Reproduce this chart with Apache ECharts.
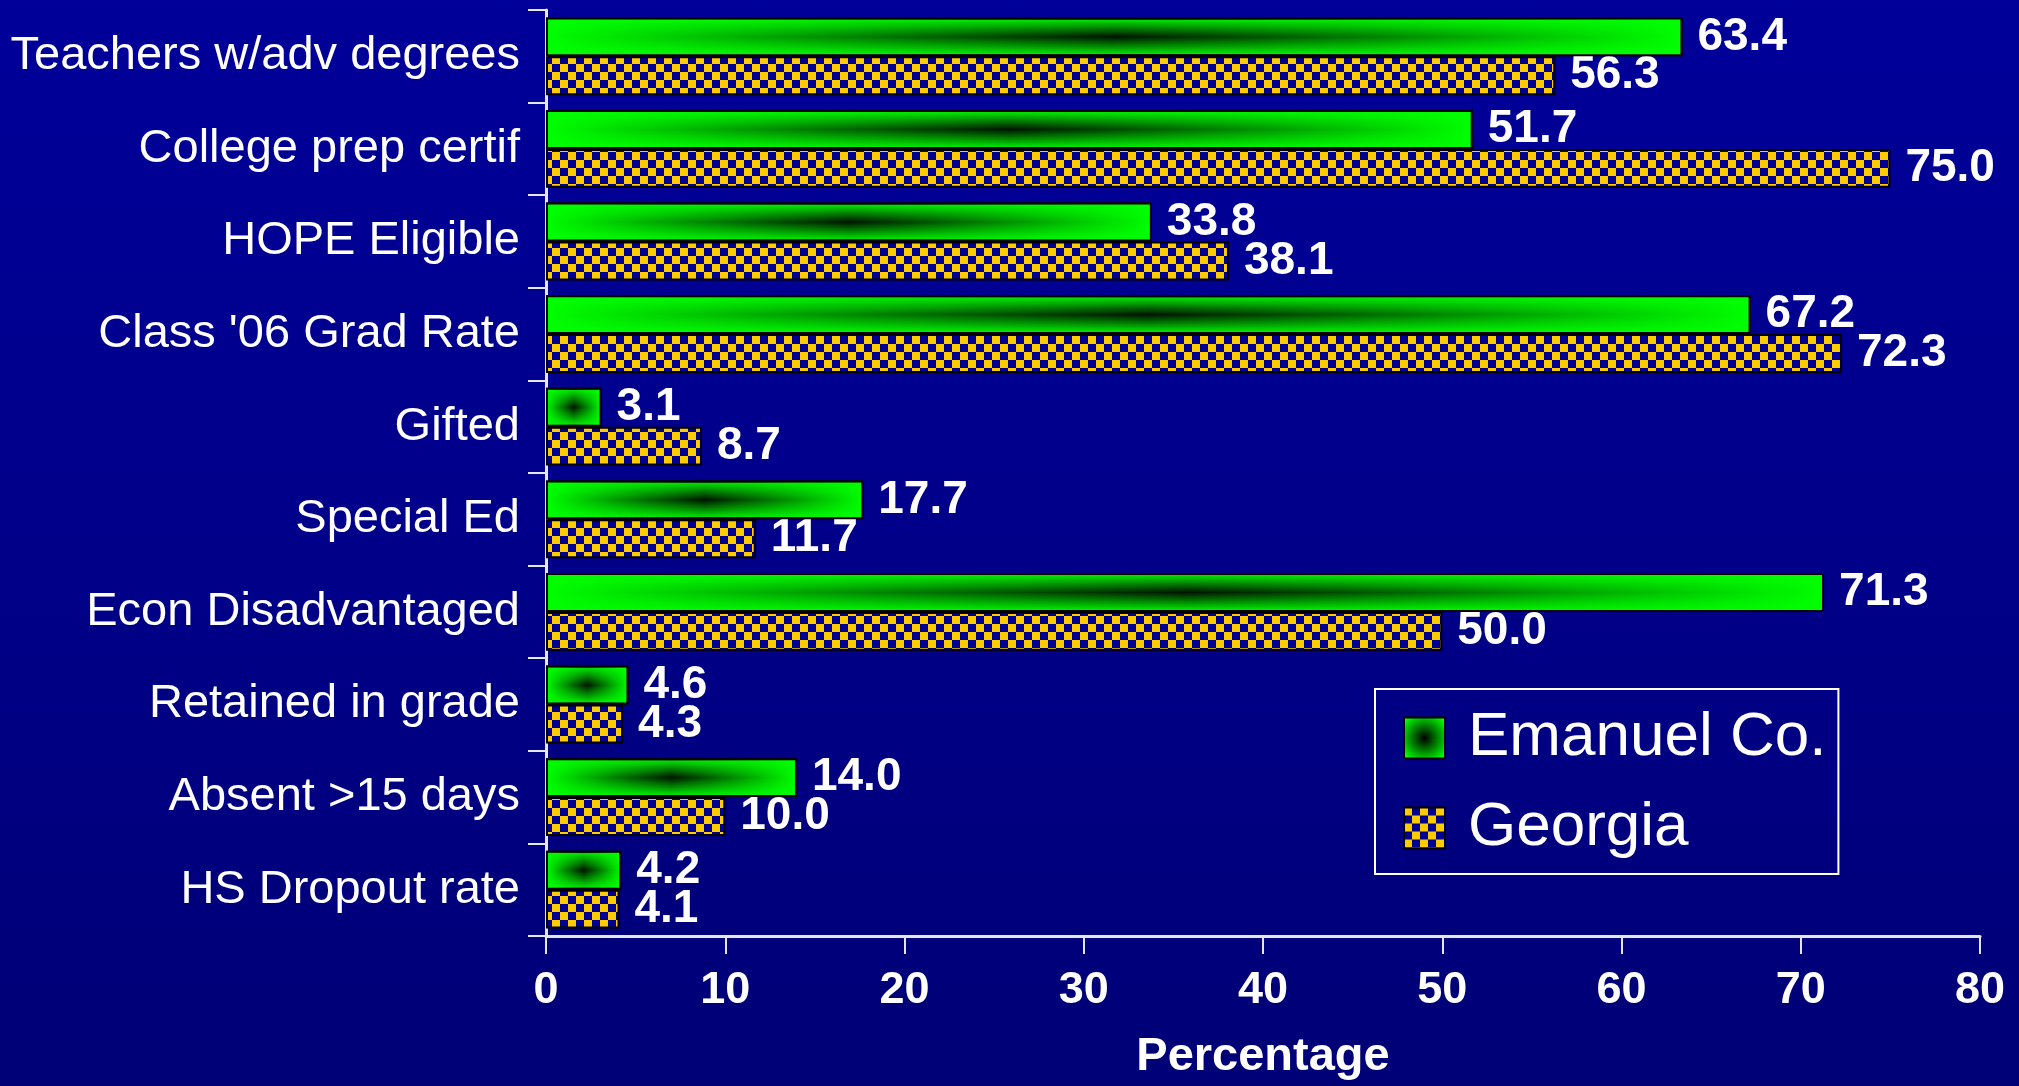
<!DOCTYPE html>
<html>
<head>
<meta charset="utf-8">
<script src="https://cdn.jsdelivr.net/npm/echarts@6/dist/echarts.min.js"></script>
<style>
  html, body { margin: 0; padding: 0; }
  #chart {
    width: 2019px;
    height: 1086px;
    background: linear-gradient(to bottom, #00009a 0%, #000088 55%, #000076 100%);
  }
</style>
</head>
<body>
<div id="chart"></div>
<script>
  // data
  const categories = ['Teachers w/adv degrees', 'College prep certif', 'HOPE Eligible', "Class '06 Grad Rate",
    'Gifted', 'Special Ed', 'Econ Disadvantaged', 'Retained in grade', 'Absent >15 days', 'HS Dropout rate']
  const emanuel = [63.4, 51.7, 33.8, 67.2, 3.1, 17.7, 71.3, 4.6, 14.0, 4.2]
  const georgia = [56.3, 75.0, 38.1, 72.3, 8.7, 11.7, 50.0, 4.3, 10.0, 4.1]
  const xMin = 0
  const xMax = 80
  const xStep = 10

  // checkerboard fill for the Georgia bars
  const checker = document.createElement('canvas')
  checker.width = 16
  checker.height = 16
  const ctx = checker.getContext('2d')
  ctx.fillStyle = '#000090'
  ctx.fillRect(0, 0, 16, 16)
  ctx.fillStyle = '#ffcc00'
  ctx.fillRect(0, 0, 8, 8)
  ctx.fillRect(8, 8, 8, 8)

  const G = echarts.graphic
  const greenV = new G.LinearGradient(0, 0, 0, 1, [
    { offset: 0, color: '#00ff00' },
    { offset: 0.5, color: '#001400' },
    { offset: 1, color: '#00ff00' }
  ])
  const greenH = new G.LinearGradient(0, 0, 1, 0, [
    { offset: 0, color: 'rgba(0,255,0,1)' },
    { offset: 0.5, color: 'rgba(0,255,0,0)' },
    { offset: 1, color: 'rgba(0,255,0,1)' }
  ])
  const greenR = new G.RadialGradient(0.5, 0.5, 0.6, [
    { offset: 0, color: '#000000' },
    { offset: 1, color: '#00ff00' }
  ])

  const labelStyle = {
    show: true,
    position: 'right',
    distance: 15,
    color: '#ffffff',
    fontFamily: 'Liberation Sans',
    fontWeight: 'bold',
    fontSize: 46,
    formatter: p => p.value.toFixed(1)
  }
  const border = { borderColor: '#000000', borderWidth: 2 }

  const chart = echarts.init(document.getElementById('chart'))
  const option = {
    backgroundColor: 'transparent',
    animation: false,
    grid: { left: 546, right: 39, top: 10, bottom: 146, containLabel: false },
    legend: {
      left: 1375,
      top: 689,
      orient: 'vertical',
      padding: [18, 12, 15, 28],
      borderColor: '#ffffff',
      borderWidth: 2,
      itemWidth: 41,
      itemHeight: 41,
      itemGap: 28,
      icon: 'rect',
      textStyle: { color: '#ffffff', fontFamily: 'Liberation Sans', fontSize: 62, padding: [0, 0, 0, 18] },
      data: [
        { name: 'Emanuel Co.', itemStyle: { color: greenR } },
        { name: 'Georgia' }
      ]
    },
    xAxis: {
      type: 'value',
      min: xMin,
      max: xMax,
      interval: xStep,
      name: 'Percentage',
      nameLocation: 'middle',
      nameGap: 98,
      nameTextStyle: { color: '#ffffff', fontFamily: 'Liberation Sans', fontWeight: 'bold', fontSize: 47 },
      axisLine: { show: true, lineStyle: { color: '#e6e6f0', width: 3 } },
      axisTick: { show: true, length: 18, lineStyle: { color: '#e6e6f0', width: 2 } },
      axisLabel: { color: '#ffffff', fontFamily: 'Liberation Sans', fontWeight: 'bold', fontSize: 45, margin: 32 },
      splitLine: { show: false }
    },
    yAxis: [
      {
        type: 'category',
        data: categories,
        inverse: true,
        axisLine: { show: true, lineStyle: { color: '#e6e6f0', width: 3 } },
        axisTick: { show: true, length: 18, lineStyle: { color: '#e6e6f0', width: 2 } },
        axisLabel: { color: '#ffffff', fontFamily: 'Liberation Sans', fontSize: 47, margin: 26 }
      },
      { type: 'category', data: categories, inverse: true, show: false }
    ],
    series: [
      {
        name: 'Emanuel Co.',
        type: 'bar',
        yAxisIndex: 0,
        data: emanuel,
        barGap: '0%',
        barCategoryGap: '16%',
        itemStyle: Object.assign({ color: greenV }, border),
        label: labelStyle
      },
      {
        name: 'Georgia',
        type: 'bar',
        yAxisIndex: 0,
        data: georgia,
        barGap: '0%',
        barCategoryGap: '16%',
        itemStyle: Object.assign({ color: { image: checker, repeat: 'repeat' } }, border),
        label: labelStyle
      },
      // horizontal fade laid over the Emanuel bars so the dark core sits in the middle
      {
        name: 'emanuelGlow',
        type: 'bar',
        yAxisIndex: 1,
        data: emanuel,
        barGap: '0%',
        barCategoryGap: '16%',
        silent: true,
        z: 3,
        itemStyle: Object.assign({ color: greenH }, border)
      },
      {
        name: 'spacer',
        type: 'bar',
        yAxisIndex: 1,
        data: [],
        barGap: '0%',
        barCategoryGap: '16%',
        silent: true
      }
    ]
  }
  chart.setOption(option)
</script>
</body>
</html>
